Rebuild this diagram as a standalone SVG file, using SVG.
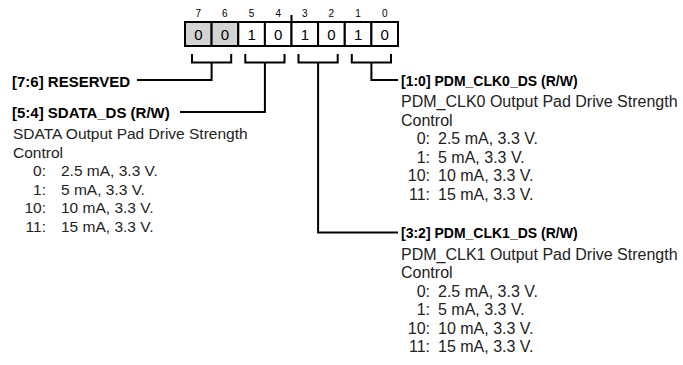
<svg xmlns="http://www.w3.org/2000/svg" width="683" height="365" viewBox="0 0 683 365">
<style>
text{font-family:"Liberation Sans",Arial,sans-serif;fill:#000}
.bit{font-size:10px;text-anchor:middle}
.val{font-size:15px;text-anchor:middle}
.h{font-size:15px;font-weight:bold}
.h2{font-size:14px;font-weight:bold}
.b{font-size:15.5px;fill:#222}
.b2{font-size:16px;fill:#222}
.r{text-anchor:end}
.cell{fill:#fff;stroke:#000;stroke-width:2}
.res{fill:#d3d3d3}
.ln{fill:none;stroke:#000;stroke-width:2}
</style>
<rect width="683" height="365" fill="#fff"/>
<g id="register">
<text class="bit" x="198.3" y="16.5">7</text>
<text class="bit" x="224.9" y="16.5">6</text>
<text class="bit" x="251.6" y="16.5">5</text>
<text class="bit" x="278.2" y="16.5">4</text>
<text class="bit" x="304.8" y="16.5">3</text>
<text class="bit" x="331.4" y="16.5">2</text>
<text class="bit" x="358.1" y="16.5">1</text>
<text class="bit" x="384.7" y="16.5">0</text>
<rect class="cell res" x="185" y="22" width="26.6" height="24"/>
<rect class="cell res" x="211.6" y="22" width="26.6" height="24"/>
<rect class="cell" x="238.3" y="22" width="26.6" height="24"/>
<rect class="cell" x="264.9" y="22" width="26.6" height="24"/>
<rect class="cell" x="291.5" y="22" width="26.6" height="24"/>
<rect class="cell" x="318.1" y="22" width="26.6" height="24"/>
<rect class="cell" x="344.8" y="22" width="26.6" height="24"/>
<rect class="cell" x="371.4" y="22" width="26.6" height="24"/>
<text class="val" x="198.3" y="39.5">0</text>
<text class="val" x="224.9" y="39.5">0</text>
<text class="val" x="251.6" y="39.5">1</text>
<text class="val" x="278.2" y="39.5">0</text>
<text class="val" x="304.8" y="39.5">1</text>
<text class="val" x="331.4" y="39.5">0</text>
<text class="val" x="358.1" y="39.5">1</text>
<text class="val" x="384.7" y="39.5">0</text>
<line class="ln" x1="291.5" y1="15" x2="291.5" y2="22"/>
</g>
<g id="connectors">
<path class="ln" d="M192,54V62.5H231.2V54M211.6,62.5V80H137"/>
<path class="ln" d="M245.3,54V62.5H284.5V54M264.9,62.5V112H180"/>
<path class="ln" d="M298.5,54V62.5H337.7V54M318.1,62.5V232.5H398"/>
<path class="ln" d="M351.8,54V62.5H391V54M371.4,62.5V80H398"/>
</g>
<g id="reserved">
<text class="h" x="12" y="86.5">[7:6] RESERVED</text>
</g>
<g id="sdata">
<text class="h" x="12" y="117.5">[5:4] SDATA_DS (R/W)</text>
<text class="b" x="13" y="139">SDATA Output Pad Drive Strength</text>
<text class="b" x="13" y="157.5">Control</text>
<text class="b r" x="46" y="176">0:</text><text class="b" x="61" y="176">2.5 mA, 3.3 V.</text>
<text class="b r" x="46" y="194.5">1:</text><text class="b" x="61" y="194.5">5 mA, 3.3 V.</text>
<text class="b r" x="46" y="213">10:</text><text class="b" x="61" y="213">10 mA, 3.3 V.</text>
<text class="b r" x="46" y="231.5">11:</text><text class="b" x="61" y="231.5">15 mA, 3.3 V.</text>
</g>
<g id="clk0">
<text class="h2" x="401" y="85.5">[1:0] PDM_CLK0_DS (R/W)</text>
<text class="b2" x="401" y="107">PDM_CLK0 Output Pad Drive Strength</text>
<text class="b2" x="401" y="125.5">Control</text>
<text class="b2 r" x="430" y="144">0:</text><text class="b2" x="438" y="144">2.5 mA, 3.3 V.</text>
<text class="b2 r" x="430" y="162.5">1:</text><text class="b2" x="438" y="162.5">5 mA, 3.3 V.</text>
<text class="b2 r" x="430" y="181">10:</text><text class="b2" x="438" y="181">10 mA, 3.3 V.</text>
<text class="b2 r" x="430" y="199.5">11:</text><text class="b2" x="438" y="199.5">15 mA, 3.3 V.</text>
</g>
<g id="clk1">
<text class="h2" x="401" y="238">[3:2] PDM_CLK1_DS (R/W)</text>
<text class="b2" x="401" y="259.5">PDM_CLK1 Output Pad Drive Strength</text>
<text class="b2" x="401" y="278">Control</text>
<text class="b2 r" x="430" y="296.5">0:</text><text class="b2" x="438" y="296.5">2.5 mA, 3.3 V.</text>
<text class="b2 r" x="430" y="315">1:</text><text class="b2" x="438" y="315">5 mA, 3.3 V.</text>
<text class="b2 r" x="430" y="333.5">10:</text><text class="b2" x="438" y="333.5">10 mA, 3.3 V.</text>
<text class="b2 r" x="430" y="352">11:</text><text class="b2" x="438" y="352">15 mA, 3.3 V.</text>
</g>
</svg>
